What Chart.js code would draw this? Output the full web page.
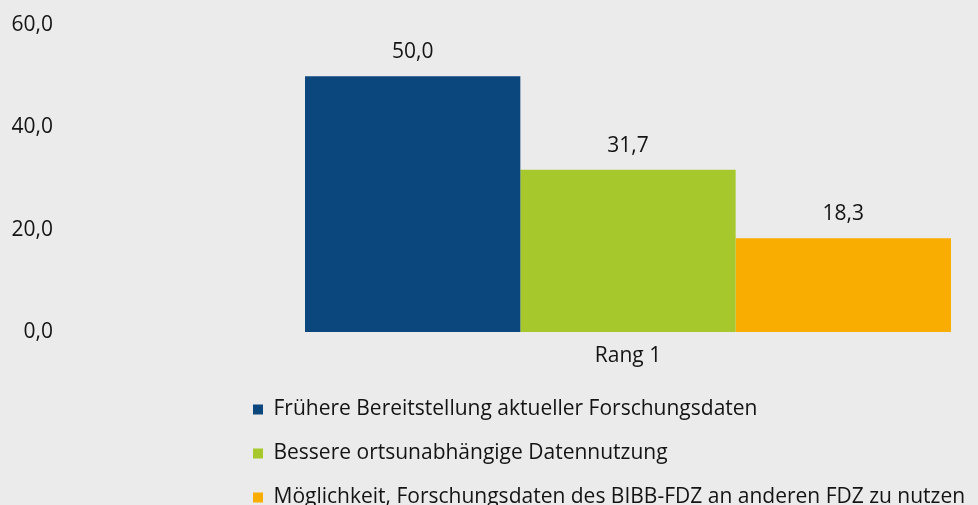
<!DOCTYPE html>
<html lang="de">
<head>
<meta charset="utf-8">
<title>Rang 1</title>
<script src="https://cdn.jsdelivr.net/npm/chart.js@4.4.1/dist/chart.umd.min.js"></script>
<style>
  html, body { margin: 0; padding: 0; background: #ebebeb; }
  #wrap { width: 978px; height: 505px; position: relative; }
</style>
</head>
<body>
<div id="wrap"><canvas id="myChart"></canvas></div>
<script>
var categories = ["Rang 1"];
var seriesNames = [
  "Frühere Bereitstellung aktueller Forschungsdaten",
  "Bessere ortsunabhängige Datennutzung",
  "Möglichkeit, Forschungsdaten des BIBB-FDZ an anderen FDZ zu nutzen"
];
var seriesValues = [[50.0], [31.7], [18.3]];
var seriesColors = ["#0b467c", "#a7c82c", "#f8ad00"];
var yTicks = [0, 20, 40, 60];

var fontFamily = '"Open Sans", "Noto Sans", sans-serif';
var fontSize = 21;
var textColor = "#141414";

function fmt(v) {
  return v.toFixed(1).replace(".", ",");
}

// values above the bars
var valueLabels = {
  id: "valueLabels",
  afterDatasetsDraw: function(chart) {
    var ctx = chart.ctx;
    ctx.save();
    ctx.font = fontSize + "px " + fontFamily;
    ctx.fillStyle = textColor;
    ctx.textAlign = "center";
    ctx.textBaseline = "alphabetic";
    chart.data.datasets.forEach(function(ds, i) {
      chart.getDatasetMeta(i).data.forEach(function(bar, j) {
        ctx.fillText(fmt(ds.data[j]), bar.x, bar.y - 18);
      });
    });
    ctx.restore();
  }
};

// legend sits under the plot, starting left of the plot area
var legendShift = {
  id: "legendShift",
  afterLayout: function(chart) {
    var lg = chart.legend;
    var dx = 253 - (lg.left + lg.options.labels.padding);
    lg.left += dx;
    lg.right = chart.width;
    lg.width = lg.right - lg.left;
    lg.top = 376;
    lg.bottom = chart.height;
    lg.height = lg.bottom - lg.top;
  }
};

var ctx = document.getElementById("myChart");
var myBarChart = new Chart(ctx, {
  type: "bar",
  data: {
    labels: categories,
    datasets: seriesNames.map(function(name, i) {
      return {
        label: name,
        data: seriesValues[i],
        backgroundColor: seriesColors[i],
        borderWidth: 0,
        barPercentage: 1,
        categoryPercentage: 0.9335
      };
    })
  },
  options: {
    responsive: true,
    maintainAspectRatio: false,
    animation: false,
    layout: {
      padding: { top: 25, right: 4, bottom: 0, left: 0 }
    },
    scales: {
      x: {
        grid: { display: false, drawTicks: false },
        border: { display: false },
        ticks: {
          color: textColor,
          font: { family: fontFamily, size: fontSize },
          padding: 11
        },
        afterFit: function(scale) { scale.height = 40; }
      },
      y: {
        min: 0,
        max: 60,
        grid: { display: false, drawTicks: false },
        border: { display: false },
        afterBuildTicks: function(scale) {
          scale.ticks = yTicks.map(function(v) { return { value: v }; });
        },
        ticks: {
          color: textColor,
          font: { family: fontFamily, size: fontSize },
          padding: 229,
          callback: function(v) { return fmt(v); }
        },
        afterFit: function(scale) {
          scale.width = 282;
          scale.paddingTop = 12;
          scale.paddingBottom = 12;
        }
      }
    },
    plugins: {
      legend: {
        position: "bottom",
        align: "start",
        fullSize: false,
        maxHeight: 133,
        labels: {
          color: textColor,
          font: { family: fontFamily, size: fontSize },
          boxWidth: 10,
          boxHeight: 10,
          padding: 23
        }
      },
      tooltip: { enabled: false }
    }
  },
  plugins: [valueLabels, legendShift]
});
</script>
</body>
</html>
